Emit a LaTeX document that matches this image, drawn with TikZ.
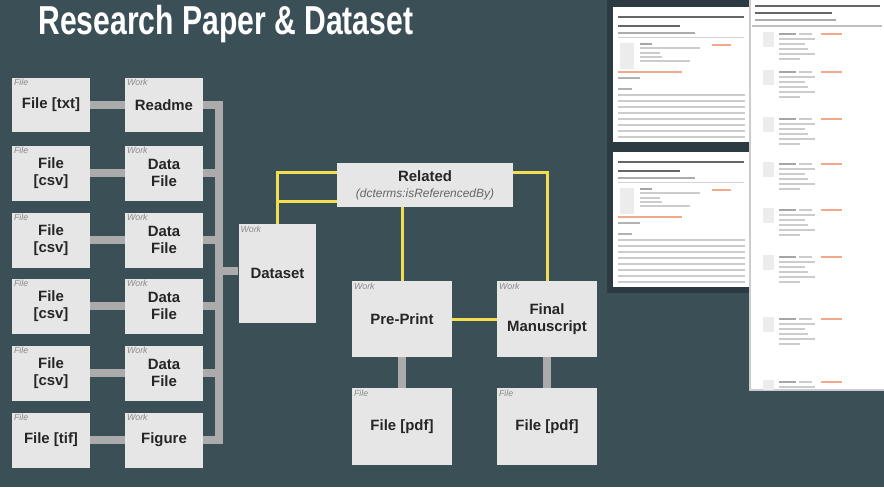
\documentclass[tikz,border=0pt]{standalone}
\usepackage{fontspec}
\setmainfont{Liberation Sans}
\usetikzlibrary{positioning}

\definecolor{slate}{HTML}{3B4F57}
\definecolor{boxfill}{HTML}{E6E6E6}
\definecolor{linkgray}{HTML}{ABABAB}
\definecolor{relyellow}{HTML}{F2DE4E}
\definecolor{tagtext}{HTML}{8A8A8A}
\definecolor{linkorange}{HTML}{F2A98A}

\begin{document}
\begin{tikzpicture}[x=0.02cm,y=-0.02cm]
        % Define styles
        \tikzset{
            box/.style={rectangle, fill=boxfill, minimum width=1.56cm, minimum height=1.1cm, inner sep=1pt, align=center, text=black!85, font=\fontsize{8.5}{10}\selectfont\bfseries},
            tag/.style={font=\fontsize{5}{5}\selectfont\itshape, text=tagtext, inner sep=1.2pt, anchor=north west},
            filebox/.style={box, label={[tag]north west:File}},
            workbox/.style={box, label={[tag]north west:Work}},
            grayline/.style={linkgray, line width=4pt},
            relline/.style={relyellow, line width=1.7pt},
            textbar/.style={gray!40, line width=0.8pt},
            boldbar/.style={black!60, line width=1.6pt}
        }

        % Background
        \fill[slate] (0,0) rectangle (884,487);
        \useasboundingbox (0,0) rectangle (884,487);

        % Title
        \node[anchor=west, text=white, font=\fontsize{23}{23}\selectfont\bfseries, inner sep=0pt] (title) at (38,24) {\scalebox{0.745}[1]{Research Paper \& Dataset}};

        % Files and works
        \node[filebox] (file1) at (51,105) {File [txt]};
        \node[workbox] (work1) at (164,105) {Readme};
        \node[filebox] (file2) at (51,173) {File\\{[csv]}};
        \node[workbox] (work2) at (164,173) {Data\\File};
        \node[filebox] (file3) at (51,240) {File\\{[csv]}};
        \node[workbox] (work3) at (164,240) {Data\\File};
        \node[filebox] (file4) at (51,306) {File\\{[csv]}};
        \node[workbox] (work4) at (164,306) {Data\\File};
        \node[filebox] (file5) at (51,373) {File\\{[csv]}};
        \node[workbox] (work5) at (164,373) {Data\\File};
        \node[filebox] (file6) at (51,440) {File [tif]};
        \node[workbox] (work6) at (164,440) {Figure};

        \node[workbox, minimum height=1.98cm] (dataset) at (277.5,273.5) {Dataset};
        \node[box, minimum width=3.52cm, minimum height=0.88cm] (related) at (425,185) {Related\\[-1pt]{\fontsize{6.8}{8}\selectfont\mdseries\itshape\color{black!60}(dcterms:isReferencedBy)}};
        \node[workbox, minimum width=2cm, minimum height=1.52cm] (preprint) at (402,319) {Pre-Print};
        \node[workbox, minimum width=2cm, minimum height=1.52cm] (final) at (547,319) {Final\\Manuscript};
        \node[filebox, minimum width=2cm, minimum height=1.54cm] (pdf1) at (402,426.5) {File [pdf]};
        \node[filebox, minimum width=2cm, minimum height=1.54cm] (pdf2) at (547,426.5) {File [pdf]};

        % Gray connectors
        \coordinate (bus) at (219,271);
        \draw[grayline] (file1) -- (work1);
        \draw[grayline] (file2) -- (work2);
        \draw[grayline] (file3) -- (work3);
        \draw[grayline] (file4) -- (work4);
        \draw[grayline] (file5) -- (work5);
        \draw[grayline] (file6) -- (work6);
        \draw[grayline] (work1.east) -| (bus) |- (work6.east);
        \draw[grayline] (work2.east) -- (work2.east -| bus);
        \draw[grayline] (work3.east) -- (work3.east -| bus);
        \draw[grayline] (work4.east) -- (work4.east -| bus);
        \draw[grayline] (work5.east) -- (work5.east -| bus);
        \draw[grayline] (bus) -- (bus -| dataset.west);
        \draw[grayline] (preprint) -- (pdf1);
        \draw[grayline] (final) -- (pdf2);

        % Yellow relations
        \coordinate (relA) at ([yshift=-0.2cm]related.north west);
        \coordinate (relB) at ([yshift=0.12cm]related.south west);
        \coordinate (relC) at ([yshift=-0.2cm]related.north east);
        \draw[relline] (relA) -| (dataset.north);
        \draw[relline] (relB) -- (relB -| dataset.north);
        \draw[relline] (related.south -| preprint.north) -- (preprint.north);
        \draw[relline] (relC) -| (final.north);
        \draw[relline] (preprint) -- (final);

        % Screenshots: article pages
        \foreach \dy in {0,145} {
            \begin{scope}[shift={(0,\dy)}]
                \fill[slate!75!black] (607,0) rectangle (749,148);
                \fill[white] (613,7) rectangle (749,142);
                \draw[boldbar] (618,17) -- (744,17);
                \draw[boldbar] (618,26) -- (680,26);
                \draw[gray!65, line width=0.8pt] (618,33) -- (695,33);
                \draw[gray!35, line width=0.5pt] (618,37) -- (744,37);
                \fill[gray!15] (620,43) rectangle (634,69);
                \draw[gray!70, line width=0.9pt] (640,44) -- (652,44);
                \draw[textbar] (640,48) -- (700,48);
                \draw[textbar] (640,53) -- (660,53);
                \draw[textbar] (640,57) -- (662,57);
                \draw[textbar] (640,61) -- (690,61);
                \draw[linkorange, line width=0.8pt] (712,45) -- (731,45);
                \draw[linkorange, line width=0.8pt] (618,72) -- (682,72);
                \draw[gray!60, line width=0.8pt] (618,78) -- (640,78);
                \draw[gray!60, line width=0.8pt] (618,89) -- (632,89);
                \foreach \y in {95,101,...,137} {
                    \draw[textbar] (618,\y) -- (745,\y);
                }
            \end{scope}
        }

        % Screenshot: file list
        \fill[white] (750,0) rectangle (884,390);
        \draw[gray!40, line width=0.6pt] (750,0) -- (750,390) -- (884,390);
        \begin{scope}
            \clip (750,0) rectangle (884,389);
            \draw[boldbar] (755,6) -- (880,6);
            \draw[boldbar] (755,13) -- (832,13);
            \draw[gray!65, line width=0.8pt] (755,20) -- (836,20);
            \draw[gray!50, line width=0.6pt] (752,26) -- (882,26);
            \foreach \y in {32,70,117,162,208,255,317,380} {
                \fill[gray!15] (763,\y) rectangle (774,\y+15);
                \draw[gray!70, line width=1pt] (779,\y+2) -- (796,\y+2);
                \draw[textbar] (799,\y+2) -- (812,\y+2);
                \draw[linkorange, line width=0.8pt] (821,\y+2) -- (842,\y+2);
                \draw[textbar] (779,\y+7) -- (815,\y+7);
                \draw[textbar] (779,\y+12) -- (805,\y+12);
                \draw[textbar] (779,\y+17) -- (808,\y+17);
                \draw[textbar] (779,\y+22) -- (815,\y+22);
                \draw[textbar] (779,\y+27) -- (800,\y+27);
            }
        \end{scope}
\end{tikzpicture}
\end{document}
